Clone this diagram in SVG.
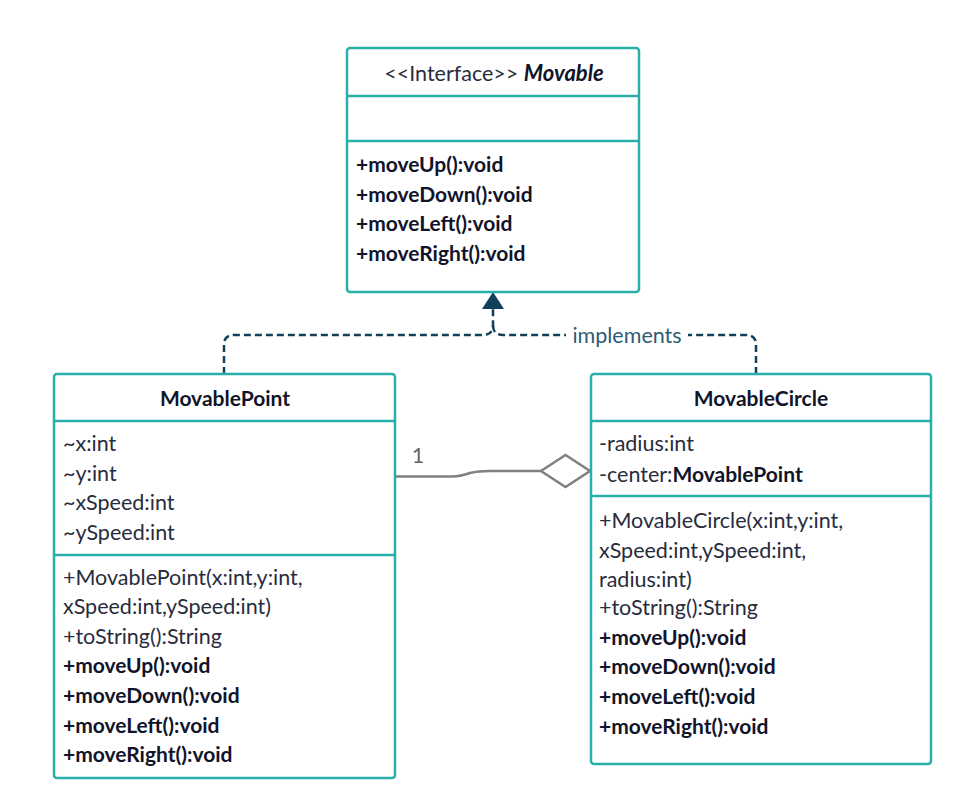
<svg xmlns="http://www.w3.org/2000/svg" width="973" height="811" viewBox="0 0 973 811">
<style>
.box{fill:#fff;stroke:#2aaeaa;stroke-width:2.5}
.div{stroke:#2aaeaa;stroke-width:2.5}
text{font-family:Lato,"Open Sans","Liberation Sans",sans-serif;font-size:21.5px;fill:#282c3c}
.b{font-weight:bold;fill:#11142a;font-size:21px}
.t{text-anchor:middle}
.dash{fill:none;stroke:#11405a;stroke-width:2.5;stroke-dasharray:7,4}
.agg{fill:none;stroke:#808080;stroke-width:2.5}
</style>
<rect width="973" height="811" fill="#fff"/>
<g id="connectors">
<path class="dash" d="M224,374 V345 Q224,335 234,335 H483 Q493,335 493,325 V309"/>
<path class="dash" d="M756,374 V345 Q756,335 746,335 H503 Q493,335 493,325"/>
<polygon points="493,292 482,309 504,309" fill="#11405a"/>
<rect x="566" y="322" width="122" height="26" fill="#fff"/>
<text x="627" y="343" class="t" style="fill:#2f5b75">implements</text>
<path class="agg" d="M396,476.5 H452 Q460,476.5 470,473 Q478,471 490,471 H541"/>
<polygon class="agg" points="541,471 565.5,455 590,471 565.5,487" fill="#fff"/>
<text x="418" y="463" class="t" style="fill:#666">1</text>
</g>
<g id="Movable">
<rect class="box" x="347" y="48" width="292" height="244" rx="3"/>
<line class="div" x1="347" y1="96" x2="639" y2="96"/>
<line class="div" x1="347" y1="141" x2="639" y2="141"/>
<text x="494" y="81" class="t" style="font-size:21.5px">&lt;&lt;Interface&gt;&gt; <tspan class="b" font-style="italic" style="font-size:22px">Movable</tspan></text>
<text x="356" y="172" class="b">+moveUp():void</text>
<text x="356" y="202" class="b">+moveDown():void</text>
<text x="356" y="231" class="b">+moveLeft():void</text>
<text x="356" y="261" class="b">+moveRight():void</text>
</g>
<g id="MovablePoint">
<rect class="box" x="54" y="374" width="341" height="404" rx="3"/>
<line class="div" x1="54" y1="421" x2="395" y2="421"/>
<line class="div" x1="54" y1="555" x2="395" y2="555"/>
<text x="225" y="406" class="t b">MovablePoint</text>
<text x="63" y="451">~x:int</text>
<text x="63" y="481">~y:int</text>
<text x="63" y="510">~xSpeed:int</text>
<text x="63" y="540">~ySpeed:int</text>
<text x="63" y="585">+MovablePoint(x:int,y:int,</text>
<text x="63" y="614">xSpeed:int,ySpeed:int)</text>
<text x="63" y="644">+toString():String</text>
<text x="63" y="673" class="b">+moveUp():void</text>
<text x="63" y="703" class="b">+moveDown():void</text>
<text x="63" y="733" class="b">+moveLeft():void</text>
<text x="63" y="762" class="b">+moveRight():void</text>
</g>
<g id="MovableCircle">
<rect class="box" x="591" y="374" width="340" height="390" rx="3"/>
<line class="div" x1="591" y1="421" x2="931" y2="421"/>
<line class="div" x1="591" y1="496" x2="931" y2="496"/>
<text x="761" y="406" class="t b">MovableCircle</text>
<text x="599" y="451">-radius:int</text>
<text x="599" y="482">-center:<tspan class="b">MovablePoint</tspan></text>
<text x="599" y="528">+MovableCircle(x:int,y:int,</text>
<text x="599" y="558">xSpeed:int,ySpeed:int,</text>
<text x="599" y="587">radius:int)</text>
<text x="599" y="615">+toString():String</text>
<text x="599" y="645" class="b">+moveUp():void</text>
<text x="599" y="674" class="b">+moveDown():void</text>
<text x="599" y="704" class="b">+moveLeft():void</text>
<text x="599" y="734" class="b">+moveRight():void</text>
</g>
</svg>
